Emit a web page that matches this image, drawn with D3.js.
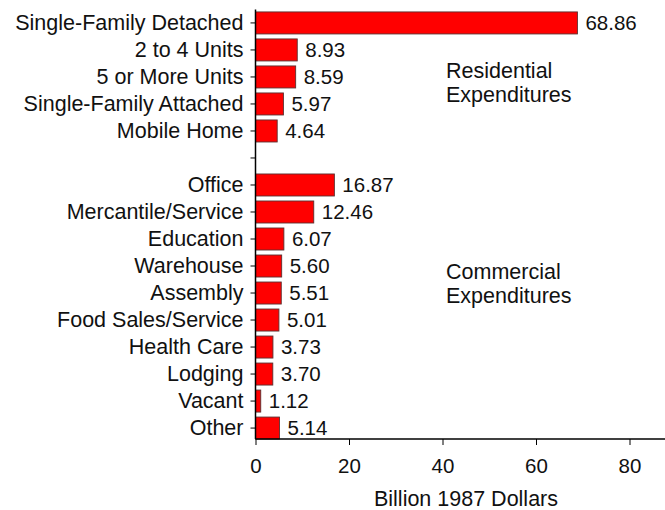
<!DOCTYPE html>
<html>
<head>
<meta charset="utf-8">
<script src="https://cdn.jsdelivr.net/npm/d3@7"></script>
<style>
  body { margin: 0; background: #fff; }
  svg text { font-family: "Liberation Sans", Arial, sans-serif; fill: #111; }
</style>
</head>
<body>
<svg width="665" height="510"></svg>
<script>
const residential = ["Single-Family Detached", "2 to 4 Units", "5 or More Units", "Single-Family Attached", "Mobile Home"];
const residentialValues = [68.86, 8.93, 8.59, 5.97, 4.64];
const commercial = ["Office", "Mercantile/Service", "Education", "Warehouse", "Assembly",
  "Food Sales/Service", "Health Care", "Lodging", "Vacant", "Other"];
const commercialValues = [16.87, 12.46, 6.07, 5.60, 5.51, 5.01, 3.73, 3.70, 1.12, 5.14];
const xTicks = [0, 20, 40, 60, 80];

const rows = residential.map((c, i) => ({ cat: c, value: residentialValues[i] }))
  .concat(commercial.map((c, i) => ({ cat: c, value: commercialValues[i] })));
const categories = residential.concat([" "], commercial);

const svg = d3.select("svg");
const left = 255.5, bottom = 439;
const fs = 20.5;     // numbers
const fsText = 21.5; // words

const x = d3.scaleLinear()
    .domain([0, 87.5])
    .range([left, left + 87.5 * 4.675]);

const y = d3.scaleBand()
    .domain(categories)
    .range([9.5, 441.5])
    .paddingInner(0.185)
    .paddingOuter(0.09);

// bars
svg.append("g")
    .selectAll("rect")
    .data(rows)
    .enter().append("rect")
    .attr("x", x(0))
    .attr("y", d => y(d.cat))
    .attr("width", d => x(d.value) - x(0))
    .attr("height", y.bandwidth())
    .attr("fill", "#ff0000")
    .attr("stroke", "#5a3030")
    .attr("stroke-width", 0.9);

// value labels
svg.append("g")
    .selectAll("text")
    .data(rows)
    .enter().append("text")
    .attr("x", d => x(d.value) + 8)
    .attr("y", d => y(d.cat) + y.bandwidth() / 2)
    .attr("dy", "0.36em")
    .attr("font-size", fs)
    .text(d => d.value.toFixed(2));

// y axis
const yAxis = svg.append("g")
    .attr("transform", `translate(${left},0)`)
    .call(d3.axisLeft(y).tickSize(5).tickPadding(7));
yAxis.select(".domain").attr("d", `M0,9.5V${bottom}`).attr("stroke", "#000").attr("stroke-width", 1.5);
yAxis.selectAll("text").attr("font-size", fsText).attr("fill", "#111");
yAxis.selectAll(".tick line").attr("stroke", "#000");

// x axis
const xAxis = svg.append("g")
    .attr("transform", `translate(0,${bottom})`)
    .call(d3.axisBottom(x).tickValues(xTicks).tickSize(6).tickPadding(13));
xAxis.select(".domain").attr("d", `M${left},0H665`).attr("stroke", "#000").attr("stroke-width", 1.5);
xAxis.selectAll("text").attr("font-size", fs).attr("fill", "#111");
xAxis.selectAll(".tick line").attr("stroke", "#000");

svg.append("text")
    .attr("x", 466)
    .attr("y", 506)
    .attr("text-anchor", "middle")
    .attr("font-size", fsText)
    .text("Billion 1987 Dollars");

// group notes
const notes = [
  { lines: ["Residential", "Expenditures"], y: 78 },
  { lines: ["Commercial", "Expenditures"], y: 279 }
];
notes.forEach(n => {
  const t = svg.append("text").attr("x", 446).attr("y", n.y).attr("font-size", fsText);
  n.lines.forEach((l, i) => t.append("tspan").attr("x", 446).attr("dy", i ? 24 : 0).text(l));
});
</script>
</body>
</html>
